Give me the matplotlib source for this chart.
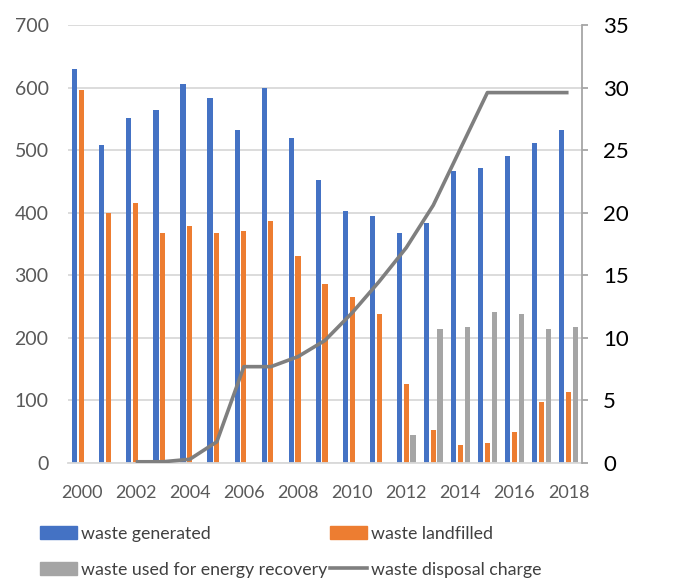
import numpy as np
import matplotlib
matplotlib.use("Agg")
from matplotlib import pyplot as plt
from matplotlib.patches import Patch
from matplotlib.lines import Line2D

# ------------------------------------------------------------------------------
# Data: municipal waste (kt) and waste disposal charge
# ------------------------------------------------------------------------------
years = list(range(2000, 2019))
generated = [630, 508, 552, 564, 605, 584, 532, 600, 520, 452,
             403, 395, 367, 383, 467, 472, 491, 512, 532]
landfilled = [596, 399, 415, 367, 379, 367, 371, 387, 331, 286,
              266, 238, 126, 53, 29, 32, 49, 97, 113]
energy = [0, 0, 0, 0, 0, 0, 0, 0, 0, 0,
          0, 0, 45, 214, 218, 242, 238, 214, 218]
charge_years = list(range(2002, 2019))
charge = [0.1, 0.1, 0.3, 1.7, 7.7, 7.7, 8.5, 9.8, 12.0, 14.5,
          17.2, 20.6, 25.1, 29.6, 29.6, 29.6, 29.6]

# ------------------------------------------------------------------------------
# Plot characteristics
# ------------------------------------------------------------------------------
DPI = 100
BLUE = '#4472C4'
ORANGE = '#ED7D31'
GREY = '#A5A5A5'
LINE = '#7F7F7F'
FONT = 'Lato'

fig = plt.figure(figsize=(6.8, 5.79), dpi=DPI)
ax = fig.add_axes([0.1, 0.2003, 0.756, 0.7565])

x = np.arange(len(years))
w = 0.19
ax.bar(x - 0.25, generated, w, color=BLUE, zorder=2)
ax.bar(x, landfilled, w, color=ORANGE, zorder=2)
ax.bar(x + 0.25, energy, w, color=GREY, zorder=2)

ax.set_xlim(-0.5, len(years) - 0.5)
ax.set_ylim(0, 700)
ax.set_yticks(range(0, 701, 100))
ax.yaxis.grid(True, color='#D9D9D9', lw=1.3, zorder=0)
ax.set_axisbelow(True)
for side in ['left', 'right', 'top']:
    ax.spines[side].set_visible(False)
ax.spines['bottom'].set_color('#D9D9D9')
ax.spines['bottom'].set_linewidth(1.3)
ax.tick_params(axis='y', length=0, pad=14, labelsize=14, labelcolor='#595959')
for lab in ax.get_yticklabels():
    lab.set_family(FONT)

ax.set_xticks(x[::2])
ax.set_xticklabels([str(yr) for yr in years[::2]], family=FONT,
                   fontsize=13, color='#595959')
ax.tick_params(axis='x', length=0, pad=16)

# secondary axis for the disposal charge
ax2 = ax.twinx()
cx = [years.index(yr) for yr in charge_years]
ax2.plot(cx, charge, color=LINE, lw=2.6, solid_capstyle='butt', zorder=3)
ax2.set_ylim(0, 35)
ax2.set_yticks(range(0, 36, 5))
for side in ['left', 'top', 'bottom']:
    ax2.spines[side].set_visible(False)
ax2.spines['right'].set_color('#A6A6A6')
ax2.spines['right'].set_linewidth(1.3)
ax2.tick_params(axis='y', length=4, width=1.3, color='#A6A6A6', pad=11,
                labelsize=16, labelcolor='black')
for lab in ax2.get_yticklabels():
    lab.set_family(FONT)

# legend below the chart
handles = [Patch(color=BLUE), Patch(color=GREY),
           Patch(color=ORANGE), Line2D([], [], color=LINE, lw=2.6)]
labels = ['waste generated', 'waste used for energy recovery',
          'waste landfilled', 'waste disposal charge']
fig.legend(handles, labels, loc='upper left', bbox_to_anchor=(0.059, 0.092),
           ncol=2, frameon=False, prop={'family': FONT, 'size': 12.8},
           labelcolor='#404040', handlelength=2.1, handleheight=0.7,
           handletextpad=0.2, columnspacing=0.15, labelspacing=1.12,
           borderaxespad=0, borderpad=0)

plt.savefig('out.png', dpi=DPI)
